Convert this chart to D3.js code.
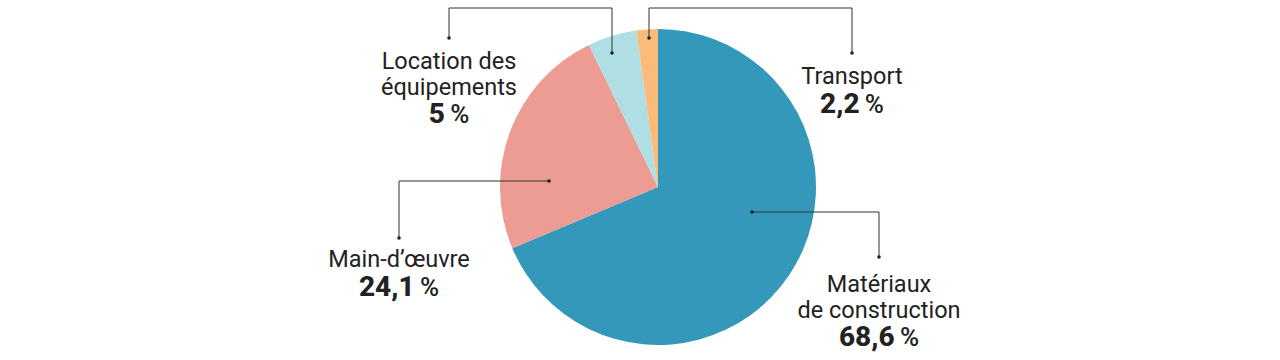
<!DOCTYPE html>
<html>
<head>
<meta charset="utf-8">
<script src="https://cdn.jsdelivr.net/npm/d3@7"></script>
<style>
  html, body { margin: 0; padding: 0; background: #fff; }
  svg text { font-family: Roboto, "Liberation Sans", sans-serif; fill: #222; }
</style>
</head>
<body>
<div id="chart"></div>
<script>
// data
const categories = ['Matériaux de construction', 'Main-d’œuvre', 'Location des équipements', 'Transport'];
const shares = [68.6, 24.1, 5, 2.2];
const labelLines = [['Matériaux', 'de construction'], ['Main-d’œuvre'], ['Location des', 'équipements'], ['Transport']];
const valueLabels = ['68,6 %', '24,1 %', '5 %', '2,2 %'];
const colors = ['#3398ba', '#ec9c93', '#afdfe4', '#fbbb7a'];

// callout layout: anchor on slice -> elbow path -> label
const callouts = [
    { anchor: [752, 212], path: [[879, 212], [879, 257]], text: [879, 292] },
    { anchor: [549, 181], path: [[399, 181], [399, 238]], text: [399, 267] },
    { anchor: [612, 53],  path: [[612, 8], [449, 8], [449, 38]], text: [449, 69] },
    { anchor: [649, 38],  path: [[649, 8], [852, 8], [852, 53]], text: [852, 84] }
];

const width = 1280, height = 360;
const cx = 658, cy = 187, radius = 158;

const svg = d3.select('#chart').append('svg')
    .attr('width', width)
    .attr('height', height);

const pie = d3.pie().sort(null).value(d => d);
const arc = d3.arc().innerRadius(0).outerRadius(radius);

const plot = svg.append('g')
    .attr('transform', `translate(${cx},${cy})`);

plot.selectAll('.slice')
    .data(pie(shares))
    .enter()
    .append('path')
    .attr('class', 'slice')
    .attr('d', arc)
    .attr('fill', (d, i) => colors[i]);

const line = d3.line();
const notes = svg.append('g');

callouts.forEach((c, i) => {
    const pts = [c.anchor].concat(c.path);
    notes.append('path')
        .attr('d', line(pts))
        .attr('fill', 'none')
        .attr('stroke', '#333')
        .attr('stroke-width', 1);
    notes.append('circle')
        .attr('cx', c.anchor[0]).attr('cy', c.anchor[1])
        .attr('r', 1.8).attr('fill', '#222');
    const end = pts[pts.length - 1];
    notes.append('circle')
        .attr('cx', end[0]).attr('cy', end[1])
        .attr('r', 1.8).attr('fill', '#222');

    const t = notes.append('text')
        .attr('text-anchor', 'middle')
        .attr('x', c.text[0])
        .attr('y', c.text[1]);
    labelLines[i].forEach((s, j) => {
        t.append('tspan')
            .attr('x', c.text[0])
            .attr('dy', j === 0 ? 0 : 25.5)
            .style('font-size', '23.5px')
            .text(s);
    });
    const v = valueLabels[i].split(' ');
    t.append('tspan')
        .attr('x', c.text[0])
        .attr('dy', 28.5)
        .style('font-size', '28px')
        .style('font-weight', 800)
        .text(v[0]);
    t.append('tspan')
        .style('font-size', '26px')
        .style('font-weight', 500)
        .text('\u2009' + v[1]);
});
</script>
</body>
</html>
